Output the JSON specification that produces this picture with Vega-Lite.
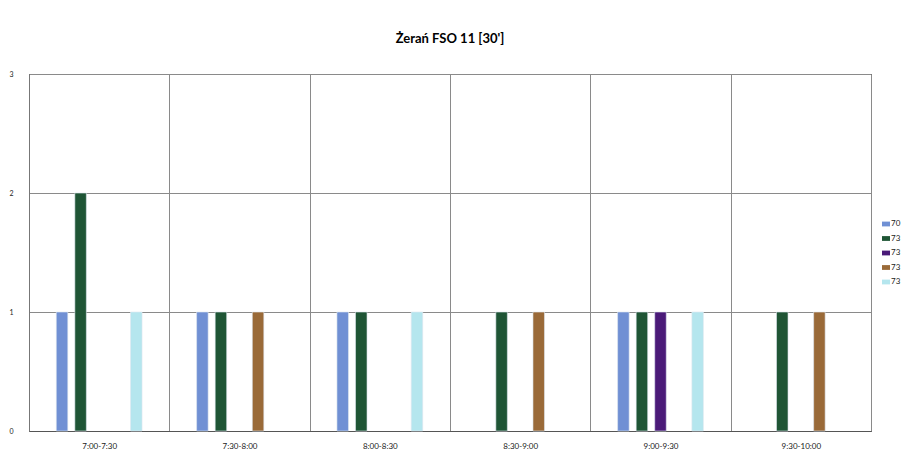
{
  "$schema": "https://vega.github.io/schema/vega-lite/v6.json",
  "width": 842,
  "height": 357,
  "autosize": {"type": "none"},
  "padding": {"left": 29, "top": 74, "right": 32, "bottom": 22},
  "background": "white",
  "title": {"text": "Żerań FSO 11 [30']", "font": "Lato", "fontSize": 13, "fontWeight": "bold", "color": "#000", "offset": 24, "anchor": "middle"},
  "data": {"values": [
    {"time": "7:00-7:30", "series": "70a", "value": 1},
    {"time": "7:00-7:30", "series": "73a", "value": 2},
    {"time": "7:00-7:30", "series": "73d", "value": 1},
    {"time": "7:30-8:00", "series": "70a", "value": 1},
    {"time": "7:30-8:00", "series": "73a", "value": 1},
    {"time": "7:30-8:00", "series": "73c", "value": 1},
    {"time": "8:00-8:30", "series": "70a", "value": 1},
    {"time": "8:00-8:30", "series": "73a", "value": 1},
    {"time": "8:00-8:30", "series": "73d", "value": 1},
    {"time": "8:30-9:00", "series": "73a", "value": 1},
    {"time": "8:30-9:00", "series": "73c", "value": 1},
    {"time": "9:00-9:30", "series": "70a", "value": 1},
    {"time": "9:00-9:30", "series": "73a", "value": 1},
    {"time": "9:00-9:30", "series": "73b", "value": 1},
    {"time": "9:00-9:30", "series": "73d", "value": 1},
    {"time": "9:30-10:00", "series": "73a", "value": 1},
    {"time": "9:30-10:00", "series": "73c", "value": 1}
  ]},
  "mark": {"type": "bar", "stroke": "#dfe8f0", "strokeWidth": 0.6},
  "encoding": {
    "x": {
      "field": "time", "type": "nominal", "sort": null, "title": null,
      "scale": {"paddingInner": 0, "paddingOuter": 0},
      "axis": {"labelAngle": 0, "labelFont": "Lato", "labelFontSize": 8, "labelColor": "#222", "labelPadding": 11, "ticks": false, "grid": true, "tickBand": "extent", "gridColor": "#8a8a8a", "gridWidth": 1, "domainColor": "#555", "domainWidth": 1.2}
    },
    "xOffset": {
      "field": "series", "type": "nominal",
      "scale": {"domain": ["_l", "70a", "73a", "73b", "73c", "73d", "_r"], "paddingInner": 0.38, "paddingOuter": 0.47}
    },
    "y": {
      "field": "value", "type": "quantitative", "title": null,
      "scale": {"domain": [0, 3], "nice": false},
      "axis": {"values": [0, 1, 2, 3], "format": "d", "labelFont": "Lato", "labelFontSize": 7, "labelColor": "#222", "labelPadding": 16, "ticks": false, "grid": true, "gridColor": "#8a8a8a", "domainColor": "#777"}
    },
    "color": {
      "field": "series", "type": "nominal", "title": null,
      "scale": {"domain": ["70a", "73a", "73b", "73c", "73d"], "range": ["#7090d4", "#1f5535", "#4a1a78", "#9a6a38", "#b5e6ee"]},
      "legend": {"orient": "none", "legendX": 853, "legendY": 146, "symbolType": "M-1,-0.6H1V0.6H-1Z", "symbolSize": 64, "symbolStrokeWidth": 0, "labelFont": "Lato", "labelFontSize": 8, "labelColor": "#222", "rowPadding": 6.5, "labelOffset": 1, "labelExpr": "slice(datum.label, 0, 2)"}
    }
  },
  "config": {"view": {"stroke": "#000", "strokeWidth": 1}}
}
